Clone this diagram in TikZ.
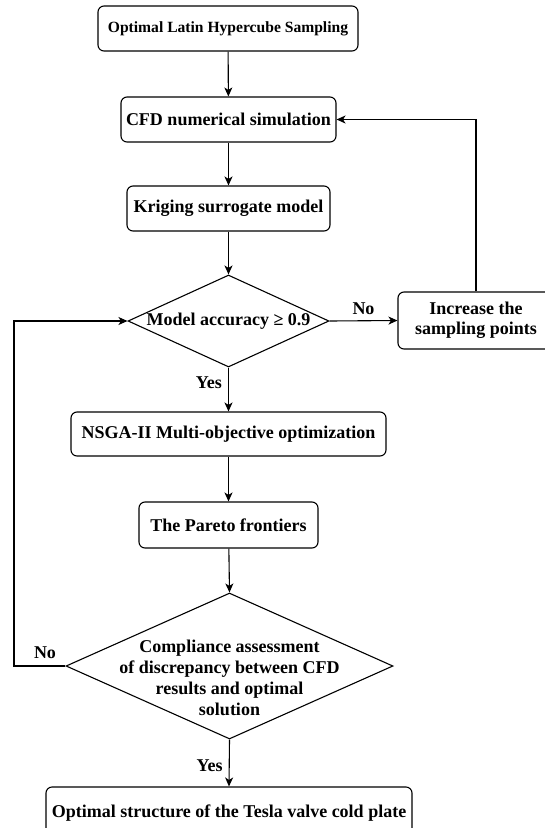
\documentclass[tikz,border=0pt]{standalone}
\usepackage{fontspec}
\setmainfont{Liberation Serif}
\usetikzlibrary{shapes.geometric,arrows.meta}
\begin{document}
\begin{tikzpicture}[x=1pt,y=-1pt,
  every node/.style={font=\fontsize{18}{21}\selectfont\bfseries},
  box/.style={draw, line width=1.1pt, rounded corners=6pt, inner sep=0pt, align=center},
  dia/.style={draw, line width=1.1pt, diamond, inner sep=0pt},
  arr/.style={line width=1.1pt, -{Stealth[length=9pt,width=8pt,inset=2.5pt]}},
  lbl/.style={inner sep=0pt}
]
\useasboundingbox (0,0) rectangle (544,828);
\node[box, minimum width=260pt, minimum height=45pt, font=\fontsize{15.6}{18}\selectfont\bfseries] (b1) at (228,28.5) {Optimal Latin Hypercube Sampling};
\node[box, minimum width=215pt, minimum height=45pt] (b2) at (228.5,119.5) {CFD numerical simulation};
\node[box, minimum width=203pt, minimum height=45pt] (b3) at (228.5,208.5) {Kriging surrogate model};
\node[dia, minimum width=201pt, minimum height=92pt] (d1) at (228.5,321) {};
\node[lbl] (d1t) at (d1) {Model accuracy ≥ 0.9};
\node[box, minimum width=156pt, minimum height=57pt, font=\fontsize{18}{20}\selectfont\bfseries] (inc) at (476,320.5) {Increase the\\sampling points};
\node[box, minimum width=315pt, minimum height=44pt] (nsga) at (228.5,434) {NSGA-II Multi-objective optimization};
\node[box, minimum width=179pt, minimum height=46pt] (par) at (228.5,525) {The Pareto frontiers};
\node[dia, minimum width=327pt, minimum height=146pt] (d2) at (229.5,666) {};
\node[lbl, align=center, font=\fontsize{18}{21}\selectfont\bfseries] (d2t) at (229.5,678) {Compliance assessment\\of discrepancy between CFD\\results and optimal\\solution};
\node[box, minimum width=366pt, minimum height=52pt] (fin) at (229,813) {Optimal structure of the Tesla valve cold plate};
\coordinate (lx) at (14,0);

\draw[arr] (b1) -- (b2);
\draw[arr] (b2) -- (b3);
\draw[arr] (b3) -- (d1.north);
\draw[arr] (d1.east) -- node[lbl, above=6pt] (no1) {No} (inc.west);
\draw[arr] (inc.north) |- (b2.east);
\draw[arr] (d1.south) -- node[lbl, pos=0.35, left=6pt] (yes1) {Yes} (nsga.north);
\draw[arr] (nsga) -- (par);
\draw[arr] (par) -- (d2.north);
\draw[arr] (d2.west) -| (lx |- d2.west) |- (d1.west);
\node[lbl] (no2) at (45,653) {No};
\draw[arr] (d2.south) -- node[lbl, pos=0.55, left=6pt] (yes2) {Yes} (fin.north);
\end{tikzpicture}
\end{document}
